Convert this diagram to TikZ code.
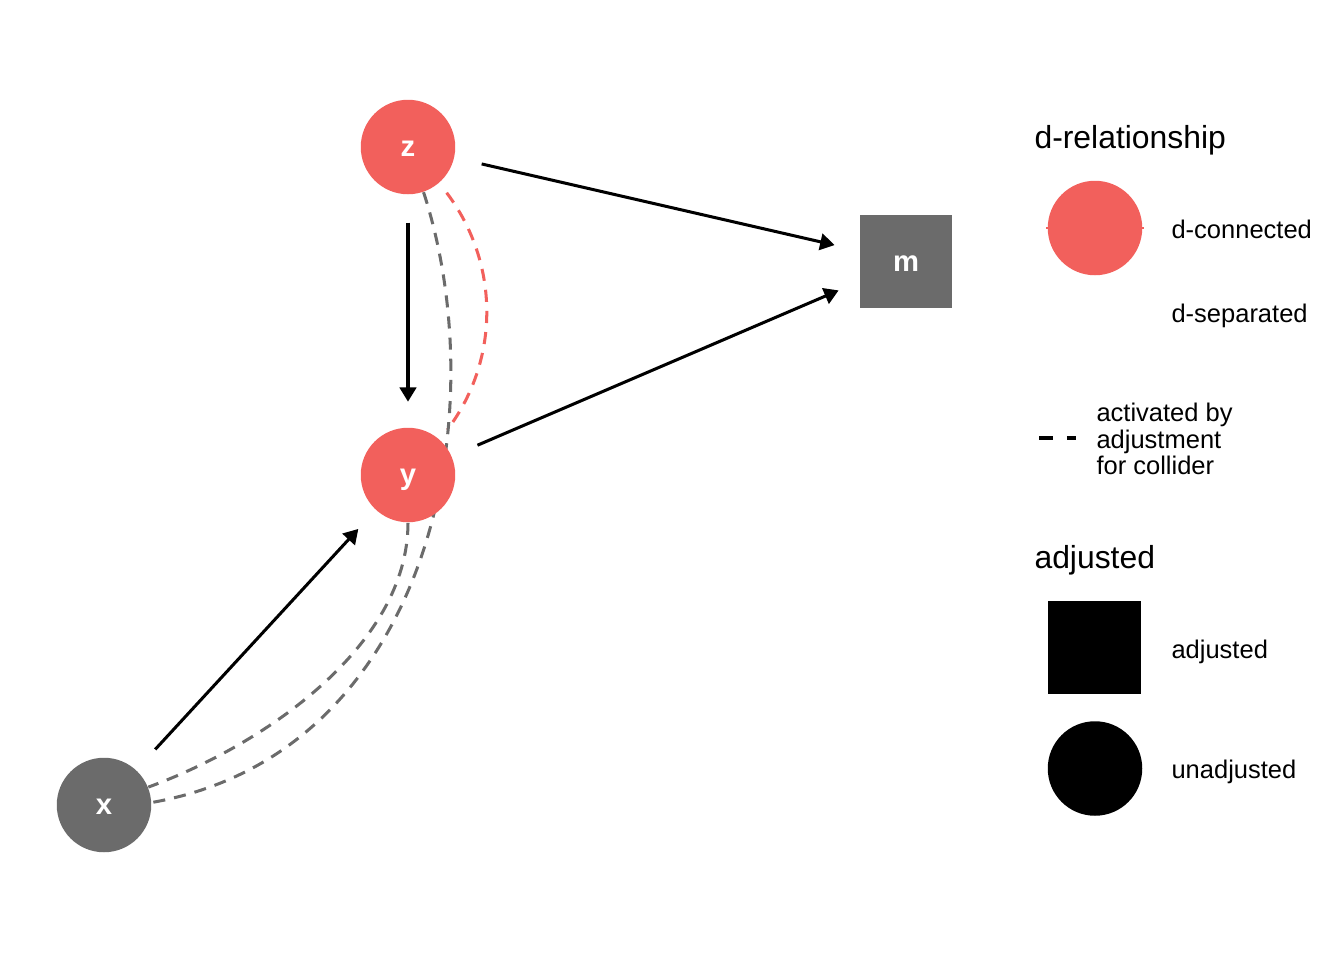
\documentclass[tikz,border=0pt]{standalone}
\usepackage{fontspec}
\setmainfont{Liberation Sans}
\usetikzlibrary{arrows.meta, backgrounds}

\definecolor{dconn}{HTML}{F2605C}
\definecolor{dsep}{HTML}{6B6B6B}

\begin{document}
\begin{tikzpicture}[x=0.1323mm, y=-0.1323mm,
    dnode/.style={circle, minimum size=12.5mm, inner sep=0pt, text=white, text height=0.72em, text depth=0pt, font=\fontsize{11}{13}\selectfont\bfseries},
    anode/.style={rectangle, minimum size=12.3mm, inner sep=0pt, text=white, text height=0.72em, text depth=0pt, font=\fontsize{11}{13}\selectfont\bfseries},
    edge/.style={line width=0.4mm, -{Triangle[length=1.9mm, width=2.2mm]}, shorten <=10mm, shorten >=9.7mm},
    collider/.style={line width=0.4mm, dash pattern=on 1.6mm off 1.2mm},
    keytitle/.style={anchor=base west, inner sep=0pt, font=\fontsize{12}{14}\selectfont},
    keylabel/.style={anchor=base west, inner sep=0pt, font=\fontsize{9.6}{10}\selectfont}]
\useasboundingbox (0,0) rectangle (1344,960);

\node[dnode, fill=dconn] (z) at (408,147) {z};
\node[dnode, fill=dconn] (y) at (408,475) {y};
\node[dnode, fill=dsep] (x) at (104,805) {x};
\node[anode, fill=dsep] (m) at (906,261.5) {m};

\begin{scope}[on background layer]
\draw[edge] (z.center) -- (m.center);
\draw[edge] (y.center) -- (m.center);
\draw[edge] (z.center) -- (y.center);
\draw[edge] (x.center) -- (y.center);
\draw[collider, dconn, shorten <=1.6mm, shorten >=1.6mm] (z.-49) to[out=-53, in=53] (y.48);
\draw[collider, dsep] (z.-71) to[out=-72, in=10, out looseness=0.9, in looseness=1.08] (x.3);
\draw[collider, dsep] (y.-90) to[out=-90, in=20, looseness=0.85] (x.22);
\end{scope}

\node[keytitle] (reltitle) at (1034,148) {d-relationship};
\draw[dconn, line width=0.3mm] (1046,228) -- (1144,228);
\node[dnode, fill=dconn] (connkey) at (1095,228) {};
\node[keylabel] (connlabel) at (1171,238) {d-connected};
\node[keylabel] (seplabel) at (1171,322) {d-separated};
\draw[line width=0.4mm, dash pattern=on 1.85mm off 1.85mm] (1039,438) -- (1076,438);
\node[keylabel, anchor=west, align=left] (colllabel) at (1096,439) {activated by\\adjustment\\for collider};

\node[keytitle] (adjtitle) at (1034,568) {adjusted};
\node[anode, fill=black] (adjkey) at (1094.5,647.5) {};
\node[keylabel] (adjlabel) at (1171,658) {adjusted};
\node[dnode, fill=black] (unadjkey) at (1095,768.5) {};
\node[keylabel] (unadjlabel) at (1171,778) {unadjusted};

\end{tikzpicture}
\end{document}
